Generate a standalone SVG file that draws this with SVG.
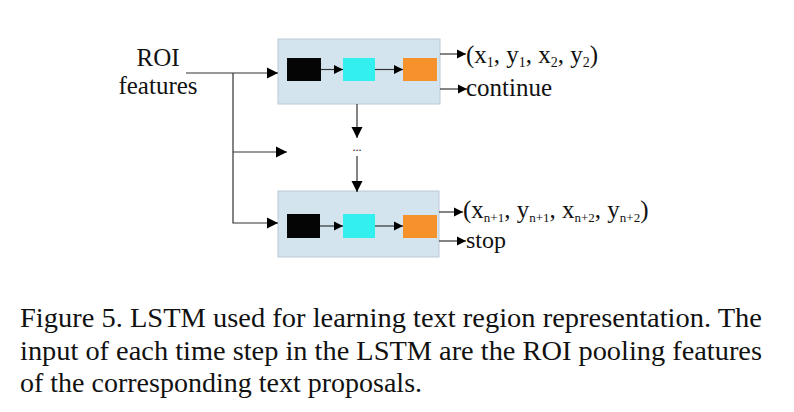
<svg xmlns="http://www.w3.org/2000/svg" width="794" height="412" viewBox="0 0 794 412">
<style>
.t{font-family:"Liberation Serif","Times New Roman",serif;fill:#111}
.ln{stroke:#333;stroke-width:1.2;fill:none}
.box{fill:#d3e4ef;stroke:#b9c9d4;stroke-width:1}
.blk{fill:#050505}
.cy{fill:#31f0ee}
.or{fill:#f6922c}
.sub{font-size:14px}
.subn{font-size:13px}
</style>
<defs>
<marker id="ah" viewBox="0 0 10 10" refX="10" refY="5" markerWidth="11" markerHeight="12" markerUnits="userSpaceOnUse" orient="auto">
<path d="M0,0 L10,5 L0,10 z" fill="#000"/>
</marker>
<marker id="as" viewBox="0 0 10 10" refX="10" refY="5" markerWidth="9" markerHeight="10" markerUnits="userSpaceOnUse" orient="auto">
<path d="M0,0 L10,5 L0,10 z" fill="#000"/>
</marker>
</defs>
<rect width="794" height="412" fill="#fff"/>
<g id="roi">
<text class="t" x="158" y="66" font-size="25" text-anchor="middle">ROI</text>
<text class="t" x="158" y="94" font-size="25" text-anchor="middle">features</text>
</g>
<g id="step1">
<rect class="box" x="278" y="39" width="162" height="65"/>
<rect class="blk" x="287" y="58" width="34" height="23"/>
<rect class="cy" x="343" y="58" width="32" height="23"/>
<rect class="or" x="403" y="58" width="34" height="23"/>
</g>
<g id="ellipsis">
<text class="t" x="357" y="151" font-size="12" text-anchor="middle">...</text>
</g>
<g id="stepN">
<rect class="box" x="278" y="191" width="161" height="66"/>
<rect class="blk" x="287" y="214" width="33" height="24"/>
<rect class="cy" x="343" y="214" width="32" height="24"/>
<rect class="or" x="403" y="215" width="34" height="23"/>
</g>
<g id="out1">
<text class="t" x="466" y="63" font-size="25">(x<tspan class="sub" dy="4">1</tspan><tspan dy="-4">, y</tspan><tspan class="sub" dy="4">1</tspan><tspan dy="-4">, x</tspan><tspan class="sub" dy="4">2</tspan><tspan dy="-4">, y</tspan><tspan class="sub" dy="4">2</tspan><tspan dy="-4">)</tspan></text>
<text class="t" x="466" y="96" font-size="25">continue</text>
</g>
<g id="outN">
<text class="t" x="463" y="218" font-size="25">(x<tspan class="subn" dy="4">n+1</tspan><tspan dy="-4">, y</tspan><tspan class="subn" dy="4">n+1</tspan><tspan dy="-4">, x</tspan><tspan class="subn" dy="4">n+2</tspan><tspan dy="-4">, y</tspan><tspan class="subn" dy="4">n+2</tspan><tspan dy="-4">)</tspan></text>
<text class="t" x="466" y="248" font-size="24">stop</text>
</g>
<g id="connectors">
<path class="ln" d="M186,73 H278" marker-end="url(#ah)"/>
<path class="ln" d="M233,73 V223 H278" marker-end="url(#ah)"/>
<path class="ln" d="M233,152 H287" marker-end="url(#ah)"/>
<path class="ln" d="M321,69.5 H343" marker-end="url(#as)"/>
<path class="ln" d="M375,69.5 H403" marker-end="url(#as)"/>
<path class="ln" d="M320,226 H343" marker-end="url(#as)"/>
<path class="ln" d="M375,226 H403" marker-end="url(#as)"/>
<path class="ln" d="M440,54 H466" marker-end="url(#as)"/>
<path class="ln" d="M440,89 H467" marker-end="url(#as)"/>
<path class="ln" d="M439,212 H463" marker-end="url(#as)"/>
<path class="ln" d="M439,241 H466" marker-end="url(#as)"/>
<path class="ln" d="M357,104 V138" marker-end="url(#ah)"/>
<path class="ln" d="M357,156 V192" marker-end="url(#ah)"/>
</g>
<g id="caption" class="t" font-size="28">
<text x="20" y="327" textLength="742" lengthAdjust="spacingAndGlyphs">Figure 5. LSTM used for learning text region representation.  The</text>
<text x="20" y="360" textLength="742" lengthAdjust="spacingAndGlyphs">input of each time step in the LSTM are the ROI pooling features</text>
<text x="20" y="392">of the corresponding text proposals.</text>
</g>
</svg>
